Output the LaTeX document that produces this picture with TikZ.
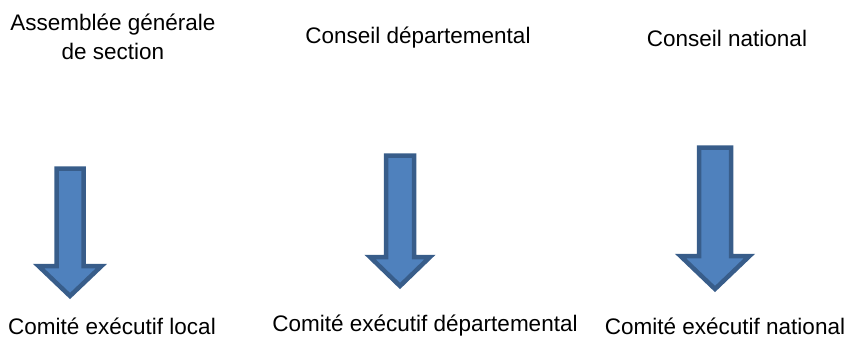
\documentclass[tikz,border=0pt]{standalone}
\usepackage{fontspec}
\setmainfont{Liberation Sans}
\usetikzlibrary{positioning}

\definecolor{arrowfill}{HTML}{4F81BD}
\definecolor{arrowborder}{HTML}{385D8A}
\tikzset{
  organe/.style={font=\fontsize{22.5}{29}\selectfont, align=center, inner sep=0pt},
  blockarrow/.style={draw=arrowborder, fill=arrowfill, line width=4.5pt, line join=miter}
}

\begin{document}
\begin{tikzpicture}[x=1pt, y=-1pt]
  \useasboundingbox (0,0) rectangle (846,341);
  % organes qui elisent
  \node[organe] (ag)   at (113,37) {Assemblée générale\\de section};
  \node[organe] (cd)   at (418,38) {Conseil départemental};
  \node[organe] (cn)   at (727,38) {Conseil national};
  % comites
  \node[organe] (cel)  at (112,326) {Comité exécutif local};
  \node[organe] (ced)  at (425,326) {Comité exécutif départemental};
  \node[organe] (cen)  at (725,326) {Comité exécutif national};
  % fleches: centre / haut / debut pointe / bout / demi-pointe / demi-corps
  \foreach \cx/\top/\hd/\tip/\hh/\hs in {70/168.5/266/296/31.5/13.5,
                                         400/155.5/257/286/30/14,
                                         715/147.5/256/289/34.5/16}
    \draw[blockarrow] (\cx-\hs,\top) -- (\cx+\hs,\top) -- (\cx+\hs,\hd)
      -- (\cx+\hh,\hd) -- (\cx,\tip) -- (\cx-\hh,\hd) -- (\cx-\hs,\hd) -- cycle;
\end{tikzpicture}
\end{document}
